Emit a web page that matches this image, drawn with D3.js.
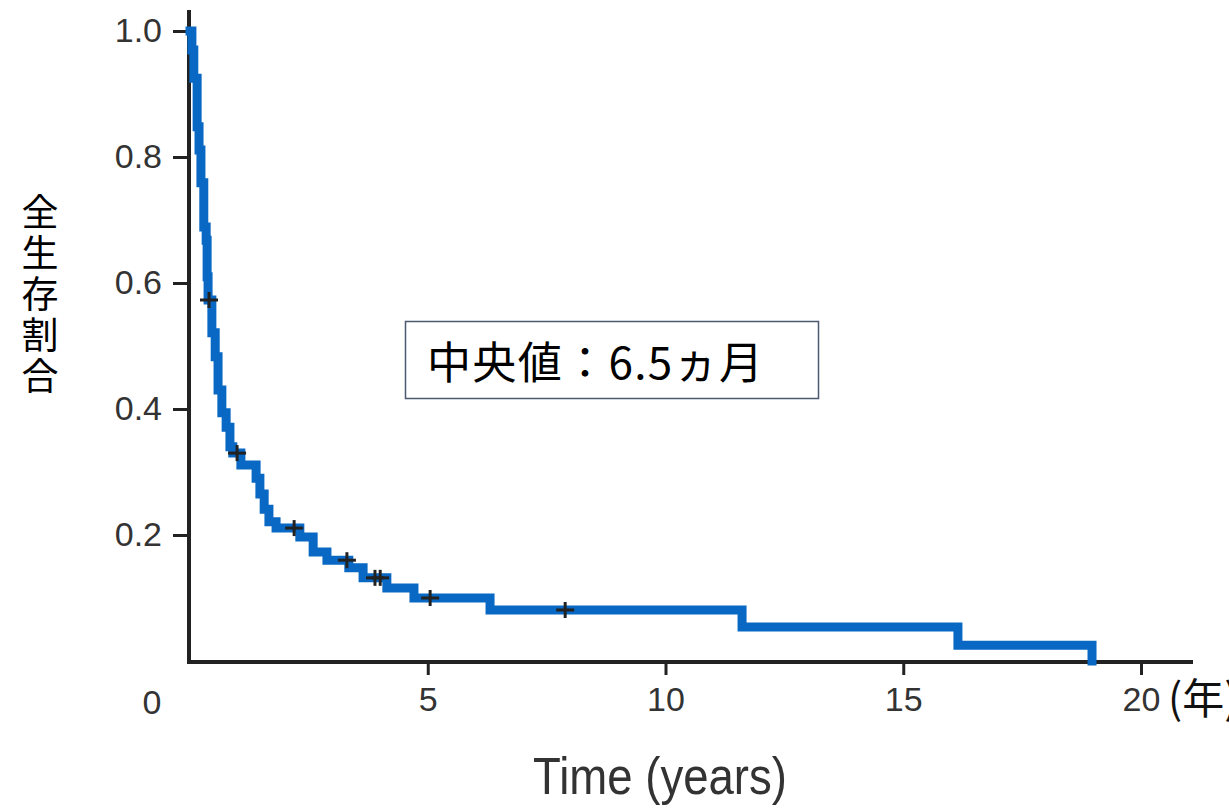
<!DOCTYPE html>
<html>
<head>
<meta charset="utf-8">
<script src="https://cdn.jsdelivr.net/npm/d3@7"></script>
<style>
  body { margin: 0; background: #fff; }
  svg { display: block; }
</style>
</head>
<body>
<svg id="chart" width="1229" height="808"></svg>
<script>
// Kaplan-Meier steps (years, survival)
const stepTimes = [0, 0.04, 0.08, 0.15, 0.19, 0.23, 0.29, 0.34, 0.36, 0.38,
    0.46, 0.53, 0.59, 0.67, 0.76, 0.84, 0.90,
    1.07, 1.39, 1.47, 1.56, 1.66, 1.81,
    2.31, 2.59, 2.88,
    3.34, 3.64, 4.14, 4.71,
    6.31, 11.61, 16.15, 18.97];
const stepSurvival = [1.0, 0.970, 0.925, 0.848, 0.811, 0.759, 0.689, 0.668, 0.610, 0.573,
    0.521, 0.483, 0.430, 0.394, 0.371, 0.340, 0.330,
    0.311, 0.290, 0.265, 0.241, 0.221, 0.211,
    0.197, 0.173, 0.160,
    0.148, 0.132, 0.116, 0.100,
    0.081, 0.054, 0.025, 0.0];

// censored marks
const censorTimes = [0.40, 0.99, 2.19, 3.30, 3.89, 4.00, 5.05, 7.89];
const censorSurvival = [0.573, 0.330, 0.211, 0.160, 0.132, 0.132, 0.100, 0.081];

const xTicks = [5, 10, 15, 20];
const yTicks = [0.2, 0.4, 0.6, 0.8, 1.0];
const xTitle = 'Time (years)';
const yTitle = '全生存割合';
const xUnit = '(年)';
const medianText = '中央値：6.5ヵ月';

let kmChart = function(){

    this._selection = null;
    this._steps = null;
    this._censors = null;
    let canvas = null;

    this.selection = function(){
        if (arguments.length > 0){
            this._selection = arguments[0];
            return this;
        } else return this._selection;
    }

    this.steps = function(){
        if (arguments.length > 0){
            this._steps = arguments[0];
            return this;
        } else return this._steps;
    }

    this.censors = function(){
        if (arguments.length > 0){
            this._censors = arguments[0];
            return this;
        } else return this._censors;
    }

    this.draw = function(){
        canvas = this._selection.append('g');

        let xScale = d3.scaleLinear()
            .domain([0, 20])
            .range([190, 1141]);

        let yScale = d3.scaleLinear()
            .domain([0, 1])
            .range([661, 31]);

        this.drawAxes(xScale, yScale);

        let line = d3.line()
            .x(d => xScale(d.t))
            .y(d => yScale(d.s))
            .curve(d3.curveStepAfter);

        canvas.append('path')
            .datum(this._steps)
            .attr('d', line)
            .attr('fill', 'none')
            .attr('stroke', '#0868c4')
            .attr('stroke-width', 9)
            .attr('stroke-linecap', 'square');

        let marks = canvas.selectAll('.censor')
            .data(this._censors)
            .join('g')
            .classed('censor', true)
            .attr('transform', d => `translate(${xScale(d.t)}, ${yScale(d.s)})`);

        marks.append('line')
            .attr('x1', -9).attr('x2', 9).attr('y1', 0).attr('y2', 0);
        marks.append('line')
            .attr('x1', 0).attr('x2', 0).attr('y1', -8).attr('y2', 8);
        marks.selectAll('line')
            .attr('stroke', '#222')
            .attr('stroke-width', 3);

        this.drawLabels(xScale, yScale);
    }

    this.drawAxes = function(xScale, yScale){
        let axisY = d3.axisLeft(yScale)
            .tickValues(yTicks)
            .tickFormat(d3.format('.1f'))
            .tickSize(16)
            .tickPadding(11);

        let gy = canvas.append('g')
            .attr('transform', `translate(${xScale(0) - 1}, 0)`)
            .call(axisY);

        let axisX = d3.axisBottom(xScale)
            .tickValues(xTicks)
            .tickSize(13)
            .tickPadding(12);

        let gx = canvas.append('g')
            .attr('transform', `translate(0, ${yScale(0) + 1})`)
            .call(axisX);

        [gx, gy].forEach(g => {
            g.select('.domain').remove();
            g.selectAll('.tick line').attr('stroke', '#222').attr('stroke-width', 3);
            g.selectAll('.tick text')
                .attr('fill', '#333')
                .style('font-family', '"Liberation Sans", Arial, sans-serif')
                .style('font-size', '34px');
        });

        // axis lines, y runs a bit above 1.0 and x past 20
        canvas.append('line')
            .attr('x1', xScale(0) - 1).attr('x2', xScale(0) - 1)
            .attr('y1', 10).attr('y2', yScale(0) + 3)
            .attr('stroke', '#222').attr('stroke-width', 4);
        canvas.append('line')
            .attr('x1', xScale(0) - 3).attr('x2', 1193)
            .attr('y1', yScale(0) + 1).attr('y2', yScale(0) + 1)
            .attr('stroke', '#222').attr('stroke-width', 4);

        // the zero label sits left of the corner
        canvas.append('text')
            .attr('x', 152)
            .attr('y', 714)
            .attr('text-anchor', 'middle')
            .attr('fill', '#333')
            .style('font-family', '"Liberation Sans", Arial, sans-serif')
            .style('font-size', '34px')
            .text('0');
    }

    this.drawLabels = function(xScale, yScale){
        canvas.append('text')
            .attr('x', 1168)
            .attr('y', 714)
            .attr('fill', '#111')
            .style('font-family', '"Noto Sans CJK JP", sans-serif')
            .style('font-size', '42px')
            .text(xUnit);

        canvas.append('text')
            .attr('x', 533)
            .attr('y', 794)
            .attr('textLength', 254)
            .attr('lengthAdjust', 'spacingAndGlyphs')
            .attr('fill', '#333')
            .style('font-family', '"Liberation Sans", Arial, sans-serif')
            .style('font-size', '52px')
            .text(xTitle);

        canvas.append('text')
            .attr('x', 40)
            .attr('y', 193)
            .attr('fill', '#000')
            .style('writing-mode', 'vertical-rl')
            .style('text-orientation', 'upright')
            .style('letter-spacing', '4px')
            .style('font-family', '"Noto Sans CJK JP", sans-serif')
            .style('font-size', '37px')
            .text(yTitle);

        canvas.append('rect')
            .attr('x', 405.5).attr('y', 321.5)
            .attr('width', 413).attr('height', 77)
            .attr('fill', '#fff')
            .attr('stroke', '#4a5a70')
            .attr('stroke-width', 1.5);

        canvas.append('text')
            .attr('x', 427)
            .attr('y', 379)
            .attr('textLength', 336)
            .attr('lengthAdjust', 'spacing')
            .attr('fill', '#000')
            .style('font-family', '"Noto Sans CJK JP", sans-serif')
            .style('font-size', '44px')
            .text(medianText);
    }
}

let steps = stepTimes.map((t, i) => ({t: t, s: stepSurvival[i]}));
let censors = censorTimes.map((t, i) => ({t: t, s: censorSurvival[i]}));

new kmChart()
    .selection(d3.select('#chart'))
    .steps(steps)
    .censors(censors)
    .draw();
</script>
</body>
</html>
